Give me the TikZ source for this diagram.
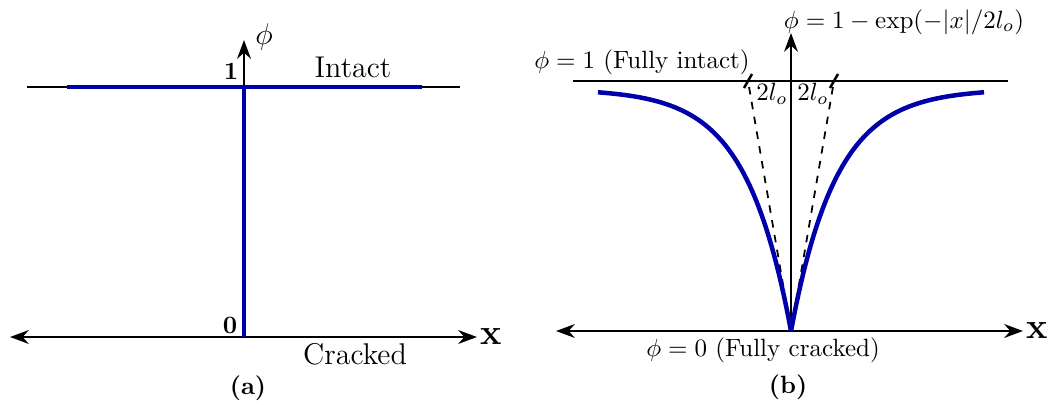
\documentclass[tikz,border=0pt]{standalone}
\usepackage{amsmath}
\usetikzlibrary{arrows.meta, positioning}
\definecolor{phaseblue}{RGB}{0, 0, 170}
\tikzset{
  axisarrow/.style={
    -{Stealth[length=7.5pt, width=5.5pt]}, line width=1pt
  },
  axisboth/.style={
    {Stealth[length=7.5pt, width=5.5pt]}-{Stealth[length=7.5pt, width=5.5pt]},
    line width=1pt
  },
  levelline/.style={line width=1pt},
  phasefield/.style={line width=1.8pt, color=phaseblue},
  tangentline/.style={dashed, line width=0.7pt},
  axislabel/.style={font=\Large\bfseries, inner sep=1pt},
  panelcap/.style={font=\bfseries},
}

\begin{document}
\begin{tikzpicture}[x=0.4pt, y=-0.4pt]
  \useasboundingbox (0,0) rectangle (1058,405);

  % (a) sharp crack
  \coordinate (aO)     at (244,337);
  \coordinate (aL)     at (10,337);
  \coordinate (aR)     at (477,337);
  \coordinate (aTop)   at (244,40);
  \coordinate (aOne)   at (244,87);
  \coordinate (aLvlL)  at (27,87);
  \coordinate (aLvlR)  at (460,87);
  \coordinate (aBlueL) at (67,87);
  \coordinate (aBlueR) at (422,87);

  \draw[levelline] (aLvlL) -- (aLvlR);
  \draw[axisarrow] (aOne) -- (aTop);
  \draw[axisboth] (aL) -- (aR);
  \draw[phasefield] (aBlueL) -- (aBlueR);
  \draw[phasefield] (aOne) -- (aO);

  \node[font=\large] (aPhi) at (264,37) {$\phi$};
  \node (aOneLbl) at (231,71) {\textbf{1}};
  \node (aZeroLbl) at (230,325) {\textbf{0}};
  \node[font=\large] (aIntact) at (353,67) {Intact};
  \node[font=\large] (aCracked) at (355,354) {Cracked};
  \node[axislabel, right=0pt of aR] (aX) {x};
  \node[panelcap] (aCap) at (248,388) {(a)};

  % (b) diffuse crack
  \coordinate (bO)    at (791,331);
  \coordinate (bL)    at (556,331);
  \coordinate (bR)    at (1023,331);
  \coordinate (bTop)  at (791,33);
  \coordinate (bLvlL) at (573,81);
  \coordinate (bLvlR) at (1008,81);
  \coordinate (bTanL) at (748,81);
  \coordinate (bTanR) at (834,81);

  \draw[levelline] (bLvlL) -- (bLvlR);
  \draw[axisarrow] (bO) -- (bTop);
  \draw[axisboth] (bL) -- (bR);

  % tangents at the tip
  \draw[tangentline] (bO) -- (bTanL);
  \draw[tangentline] (bO) -- (bTanR);
  \foreach \t in {bTanL, bTanR}
    \draw[levelline] ([shift={(-4,7)}]\t) -- ([shift={(4,-7)}]\t);

  % phase field profile
  \draw[phasefield] plot[domain=-193:0, samples=80]
        ({791+\x}, {331-242*(1-exp(\x/45))});
  \draw[phasefield] plot[domain=0:193, samples=80]
        ({791+\x}, {331-242*(1-exp(-\x/45))});

  \node (bFormula) at (904,22) {$\phi = 1 - \exp(-|x|/2l_o)$};
  \node (bIntact) at (642,62) {$\phi = 1$ (Fully intact)};
  \node (bCracked) at (763,350) {$\phi = 0$ (Fully cracked)};
  \node (bLenL) at (772,94) {$2l_o$};
  \node (bLenR) at (813,94) {$2l_o$};
  \node[axislabel, right=0pt of bR] (bX) {x};
  \node[panelcap] (bCap) at (788,387) {(b)};
\end{tikzpicture}
\end{document}
